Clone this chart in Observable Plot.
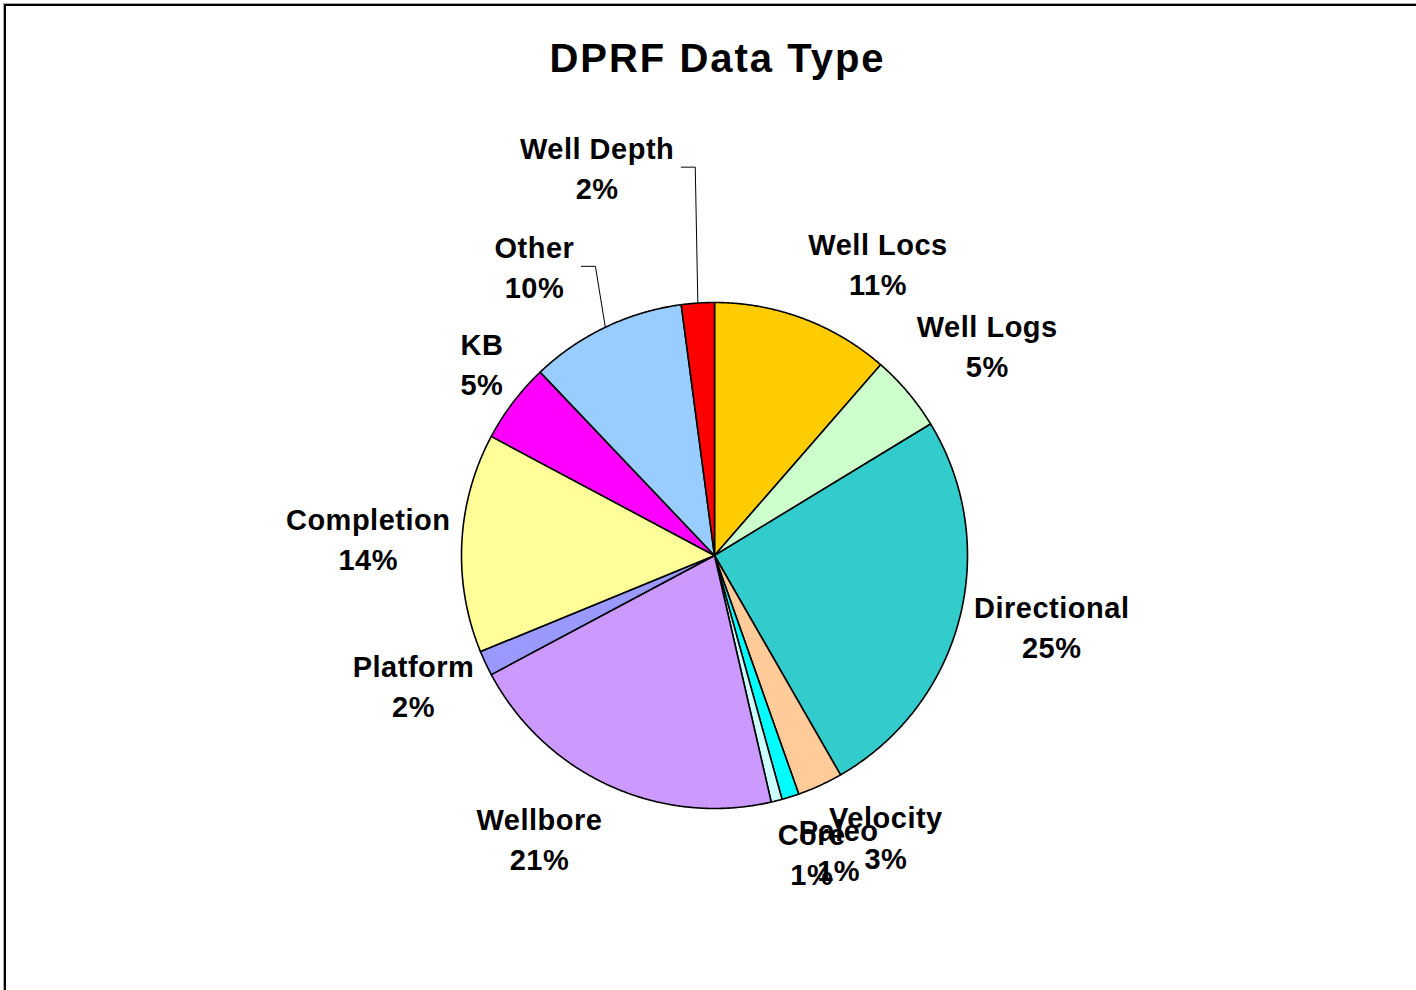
<!DOCTYPE html>
<html><head><meta charset="utf-8">
<script src="https://cdn.jsdelivr.net/npm/d3@7"></script>
<script src="https://cdn.jsdelivr.net/npm/@observablehq/plot@0.6"></script>
<style>
html,body{margin:0;padding:0;background:#fff;}
#wrap{position:relative;width:1416px;height:990px;overflow:hidden;background:#fff;}
#frame{position:absolute;left:4px;top:4px;width:1500px;height:1100px;border-top:2px solid #000;border-left:2px solid #000;box-shadow:-1px -1px 0 #aaa;}
#chart{position:absolute;left:0;top:0;}
#chart g[font-size="40"] text{letter-spacing:2px;}
#chart g[font-size="29"] text{letter-spacing:0.5px;}
</style></head>
<body><div id="wrap"><div id="frame"></div><div id="chart"></div></div>
<script>
// ---- data ----
const title = "DPRF Data Type";
const categories = ["Well Locs","Well Logs","Directional","Velocity","Paleo","Core","Wellbore","Platform","Completion","KB","Other","Well Depth"];
const values     = [11.4, 4.9, 25.4, 2.9, 1.1, 0.7, 20.8, 1.6, 14.0, 5.1, 10.0, 2.1];
const colors     = ["#FFCC00","#CCFFCC","#33CCCC","#FFCC99","#00FFFF","#CCFFFF","#CC99FF","#9999FF","#FFFF99","#FF00FF","#99CCFF","#FF0000"];
const leaderCategories = ["Other","Well Depth"];

// ---- layout ----
const W = 1416, H = 990, CX = 714, CY = 555, R = 253, GAP = 12, LABEL_DY = -3;
const FONT = 29, LINE_H = 1.38, FAMILY = "'Liberation Sans', Arial, sans-serif";
const labelNudge = {
  "Well Locs":[47,-5], "Well Logs":[18,-12], "Directional":[8,-3], "Velocity":[38,6],
  "Paleo":[33,5], "Core":[24,4], "Wellbore":[-40,7], "Platform":[-8,2],
  "Completion":[-2,0], "KB":[-5,-6], "Other":[-49,-12], "Well Depth":[-95,-82]
};

const total = d3.sum(values);
const rows = categories.map((c,i)=>({cat:c, value:values[i]}));
const arcs = d3.pie().sort(null).value(d=>d.value)(rows);
const pt = (a,r)=>({x: CX + r*Math.sin(a), y: CY - r*Math.cos(a)});

const ctx = document.createElement("canvas").getContext("2d");
ctx.font = `bold ${FONT}px ${FAMILY}`;

const slicePts = [], labels = [], leaderPts = [];
for (const a of arcs) {
  const cat = a.data.cat;
  const n = Math.max(2, Math.ceil((a.endAngle - a.startAngle) / 0.005));
  slicePts.push({cat, x: CX, y: CY});
  for (let k = 0; k <= n; k++) {
    const p = pt(a.startAngle + (a.endAngle - a.startAngle) * k / n, R);
    slicePts.push({cat, ...p});
  }
  slicePts.push({cat, x: CX, y: CY});
  const pct = Math.round(a.data.value / total * 100) + "%";
  const w = Math.max(ctx.measureText(cat).width, ctx.measureText(pct).width);
  const h = FONT * LINE_H * 2;
  const m = (a.startAngle + a.endAngle) / 2;
  const P = pt(m, R + GAP);
  const nd = labelNudge[cat] || [0,0];
  const lx = P.x + w/2*Math.sin(m) + nd[0];
  const ly = P.y - h/2*Math.cos(m) + nd[1] + LABEL_DY;
  labels.push({cat, x: lx, y: ly, text: cat + "\n" + pct});
  if (leaderCategories.includes(cat)) {
    const e = pt(m, R);
    const cw = ctx.measureText(cat).width + 0.5 * cat.length;
    leaderPts.push({cat, x: lx + cw/2 + 7, y: ly + 1});
    leaderPts.push({cat, x: lx + cw/2 + 21, y: ly + 1});
    leaderPts.push({cat, x: e.x, y: e.y});
  }
}

const plot = Plot.plot({
  width: W, height: H, margin: 0,
  x: {domain:[0,W], range:[0,W], axis:null},
  y: {domain:[0,H], range:[0,H], axis:null},
  color: {domain: categories, range: colors},
  style: {background:"transparent", fontFamily: FAMILY},
  marks: [
    Plot.line(leaderPts, {x:"x", y:"y", z:"cat", stroke:"#000", strokeWidth:1}),
    Plot.line(slicePts, {x:"x", y:"y", z:"cat", fill:"cat", stroke:"#000", strokeWidth:1.6, strokeLinejoin:"round"}),
    Plot.text(labels, {x:"x", y:"y", text:"text", fontSize:FONT, fontWeight:"bold", lineHeight:LINE_H, fill:"#000", lineAnchor:"middle"}),
    Plot.text([title], {frameAnchor:"top", lineAnchor:"middle", dy:59, dx:9, fontSize:40, fontWeight:"bold", fill:"#000"})
  ]
});
document.getElementById("chart").appendChild(plot);
</script>
</body></html>
